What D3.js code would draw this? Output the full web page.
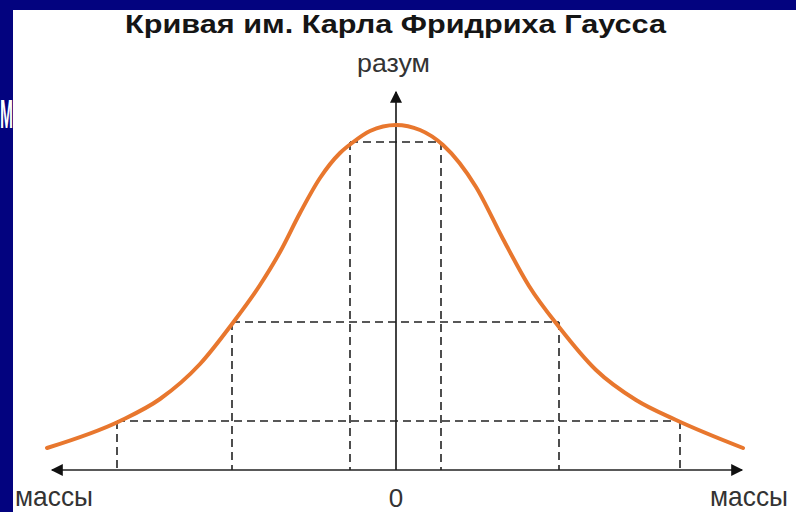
<!DOCTYPE html>
<html>
<head>
<meta charset="utf-8">
<script src="https://cdn.jsdelivr.net/npm/d3@7"></script>
<style>
  html, body { margin: 0; padding: 0; background: #03037f; }
  svg { display: block; }
  text { font-family: "Liberation Sans", Arial, sans-serif; }
</style>
</head>
<body>
<svg id="chart" width="796" height="512"></svg>
<script>
// curve (x: masses, y: reason)
const curveX = [-3.49, -2.76, -2.36, -1.96, -1.64, -1.36, -1.16, -0.96, -0.76, -0.56, -0.44, -0.26, 0,
                 0.24, 0.47, 0.80, 1.07, 1.33, 1.63, 2.00, 2.40, 2.80, 3.47];
const curveY = [0.22, 0.49, 0.71, 1.06, 1.46, 1.85, 2.18, 2.57, 2.92, 3.17, 3.27, 3.39, 3.45,
                3.40, 3.25, 2.83, 2.31, 1.84, 1.43, 1.00, 0.70, 0.50, 0.22];

// dashed guide rectangles: level, left edge, right edge
const guideLevels = [3.28, 1.48, 0.49];
const guideLeft   = [-0.46, -1.64, -2.79];
const guideRight  = [0.45, 1.63, 2.84];

const title = "Кривая им. Карла Фридриха Гаусса";
const yLabel = "разум";
const xLabel = "массы";
const zeroLabel = "0";

const svg = d3.select("#chart");
const width = +svg.attr("width");
const height = +svg.attr("height");

const x = d3.scaleLinear().domain([-3.5, 3.5]).range([46, 746]);
const y = d3.scaleLinear().domain([0, 3.8]).range([470, 90]);

// blue frame + white panel
svg.append("rect").attr("width", width).attr("height", height).attr("fill", "#03037f");
svg.append("rect").attr("x", 13).attr("y", 10).attr("width", width).attr("height", height)
  .attr("fill", "#ffffff");

const defs = svg.append("defs");
defs.append("marker")
    .attr("id", "arrow")
    .attr("viewBox", "0 0 10 10")
    .attr("refX", 9).attr("refY", 5)
    .attr("markerWidth", 14).attr("markerHeight", 12)
    .attr("markerUnits", "userSpaceOnUse")
    .attr("orient", "auto")
  .append("path")
    .attr("d", "M0,0 L10,5 L0,10 Z")
    .attr("fill", "#111");

// dashed guides
const guides = svg.append("g")
    .attr("stroke", "#222")
    .attr("stroke-width", 1.6)
    .attr("stroke-dasharray", "8,5")
    .attr("fill", "none");

guideLevels.forEach((lvl, i) => {
  guides.append("line")
    .attr("x1", x(guideLeft[i])).attr("x2", x(guideRight[i]))
    .attr("y1", y(lvl)).attr("y2", y(lvl));
  [guideLeft[i], guideRight[i]].forEach(v => {
    guides.append("line")
      .attr("x1", x(v)).attr("x2", x(v))
      .attr("y1", y(lvl)).attr("y2", y(0));
  });
});

// axes with arrows
const axes = svg.append("g").attr("stroke", "#222").attr("stroke-width", 1.7);
axes.append("line")
    .attr("x1", x(0)).attr("x2", x(-3.44))
    .attr("y1", y(0)).attr("y2", y(0))
    .attr("marker-end", "url(#arrow)");
axes.append("line")
    .attr("x1", x(0)).attr("x2", x(3.46))
    .attr("y1", y(0)).attr("y2", y(0))
    .attr("marker-end", "url(#arrow)");
axes.append("line")
    .attr("x1", x(0)).attr("x2", x(0))
    .attr("y1", y(0)).attr("y2", y(3.78))
    .attr("marker-end", "url(#arrow)");

// gauss curve
const pts = curveX.map((v, i) => [v, curveY[i]]);
const line = d3.line()
    .x(d => x(d[0]))
    .y(d => y(d[1]))
    .curve(d3.curveMonotoneX);

svg.append("path")
    .datum(pts)
    .attr("d", line)
    .attr("fill", "none")
    .attr("stroke", "#e8772e")
    .attr("stroke-width", 4)
    .attr("stroke-linecap", "round");

// texts
svg.append("text")
    .attr("x", 125).attr("y", 33)
    .attr("font-size", 25)
    .attr("font-weight", "bold")
    .attr("fill", "#151515")
    .attr("textLength", 541)
    .attr("lengthAdjust", "spacingAndGlyphs")
    .text(title);

svg.append("text")
    .attr("x", 357).attr("y", 72)
    .attr("font-size", 26)
    .attr("fill", "#333")
    .attr("textLength", 73)
    .attr("lengthAdjust", "spacingAndGlyphs")
    .text(yLabel);

svg.append("text")
    .attr("x", 15).attr("y", 506)
    .attr("font-size", 28)
    .attr("fill", "#333")
    .attr("textLength", 78)
    .attr("lengthAdjust", "spacingAndGlyphs")
    .text(xLabel);

svg.append("text")
    .attr("x", 710).attr("y", 506)
    .attr("font-size", 28)
    .attr("fill", "#333")
    .attr("textLength", 78)
    .attr("lengthAdjust", "spacingAndGlyphs")
    .text(xLabel);

svg.append("text")
    .attr("x", x(0)).attr("y", 507)
    .attr("text-anchor", "middle")
    .attr("font-size", 26)
    .attr("fill", "#333")
    .text(zeroLabel);

// cut-off letter on the left border
svg.append("text")
    .attr("x", 0).attr("y", 128)
    .attr("font-size", 40)
    .attr("font-weight", "bold")
    .attr("fill", "#ffffff")
    .attr("textLength", 13)
    .attr("lengthAdjust", "spacingAndGlyphs")
    .text("М");
</script>
</body>
</html>
